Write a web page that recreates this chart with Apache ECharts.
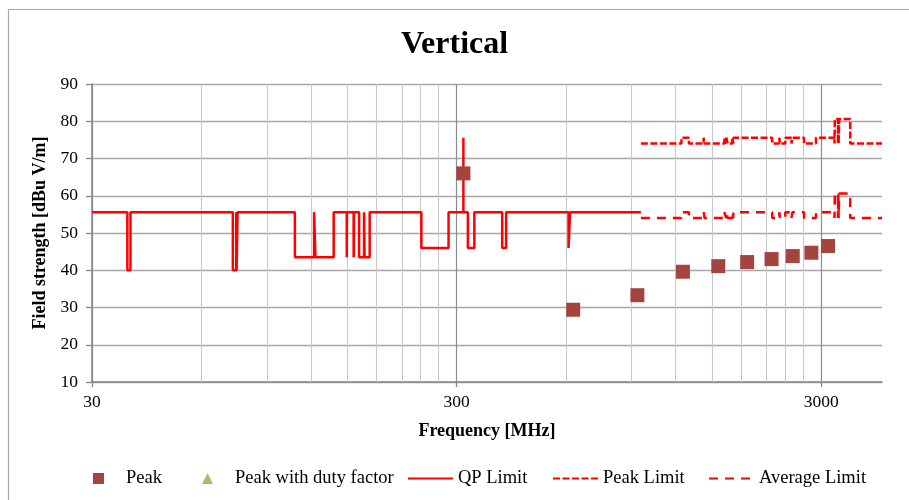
<!DOCTYPE html>
<html><head><meta charset="utf-8">
<script src="https://cdn.jsdelivr.net/npm/echarts@6/dist/echarts.min.js"></script>
<style>html,body{margin:0;padding:0;background:#fff}#c{width:909px;height:500px}</style>
</head><body><div id="c"></div>
<script>
// ---- data (frequency in MHz, level in dBuV/m) ----
const xMin = 30, xMax = 4400;
const yMin = 10, yMax = 90;
const xTickLabels = [30, 300, 3000];
const minorGrid = [60, 90, 120, 150, 180, 210, 240, 270, 600, 900, 1200, 1500, 1800, 2100, 2400, 2700];

const peakFreq  = [313, 626, 939, 1252, 1565, 1878, 2191, 2504, 2817, 3130];
const peakLevel = [66.0, 29.4, 33.3, 39.6, 41.1, 42.2, 43.0, 43.8, 44.7, 46.5];

const dutyFreq = [];
const dutyLevel = [];

const qpFreq  = [30, 37.5, 38.25, 73, 74.6, 74.8, 75.2, 108, 121.94, 123,
                 138, 149.9, 150.05, 156.52475, 156.52525, 156.7, 156.9, 162.0125, 167.17, 167.72,
                 173.2, 240, 285, 313, 313, 322, 335.4, 399.9, 410, 608,
                 614, 960];
const qpLevel = [55.6, 40, 55.6, 40, 55.6, 40, 55.6, 43.5, 55.6, 43.5,
                 55.6, 43.5, 55.6, 43.5, 55.6, 43.5, 55.6, 43.5, 55.6, 43.5,
                 55.6, 46, 55.6, 75.6, 55.6, 46, 55.6, 46, 55.6, 46,
                 55.6, 55.6];

const limFreq = [960, 1240, 1300, 1427, 1435, 1626.5, 1645.5, 1646.5, 1660, 1710,
                 1718.8, 1722.2, 2200, 2300, 2310, 2390, 2483.5, 2500, 2690, 2900,
                 3260, 3267, 3332, 3339, 3345.8, 3358, 3600, 4400];
const avgLevel = [54, 55.6, 54, 55.6, 54, 55.6, 54, 55.6, 54, 55.6,
                  54, 55.6, 54, 55.6, 54, 55.6, 54, 55.6, 54, 55.6,
                  54, 60.6, 54, 60.6, 54, 60.6, 54, 54];
const pkLimLevel = [74, 75.6, 74, 75.6, 74, 75.6, 74, 75.6, 74, 75.6,
                    74, 75.6, 74, 75.6, 74, 75.6, 74, 75.6, 74, 75.6,
                    74, 80.6, 74, 80.6, 74, 80.6, 74, 74];

const legendNames = ['Peak', 'Peak with duty factor', 'QP Limit', 'Peak Limit', 'Average Limit'];

// ---- helpers ----
const toX = f => Math.log10(f / xMin);               // log-frequency axis coordinate
const pairs = (fs, ls) => fs.map((f, i) => [toX(f), ls[i]]);
const FONT = 'Liberation Serif';
const RED = '#FF0000';
const majorVals = xTickLabels.map(toX);

const legendLeft = [93, 202, 407, 552, 708];
const legendItem = (name, i) => {
  let d;
  if (i === 0) d = {name, icon: 'path://M0,0L10,0L10,10L0,10Z'};
  else if (i === 1) d = {name, icon: 'path://M5,0L10,10L0,10Z'};
  else d = {name, itemStyle: {opacity: 0}};
  return {
    left: legendLeft[i], top: 469, padding: 0, itemWidth: 45, itemHeight: 11,
    selectedMode: false,
    textStyle: {fontFamily: FONT, fontSize: 18.5, color: '#000'},
    data: [d]
  };
};

const chart = echarts.init(document.getElementById('c'), null, {renderer: 'canvas'});
chart.setOption({
  animation: false,
  backgroundColor: '#fff',
  graphic: [{
    type: 'rect', silent: true, z: -10,
    shape: {x: 8.5, y: 9.5, width: 1000, height: 1000},
    style: {fill: 'none', stroke: '#A6A6A6', lineWidth: 1.2}
  }],
  title: {
    text: 'Vertical', left: 'center', top: 29, padding: 0,
    textStyle: {fontFamily: FONT, fontWeight: 'bold', fontSize: 32, color: '#000'}
  },
  grid: {left: 92, right: 27, top: 84, bottom: 118, containLabel: false},
  legend: legendNames.map(legendItem),
  xAxis: {
    type: 'value', min: 0, max: toX(xMax), interval: 1,
    axisLine: {show: true, onZero: false, lineStyle: {color: '#868686', width: 1.5}},
    axisTick: {show: true, length: 5, customValues: majorVals, lineStyle: {color: '#868686', width: 1.3}},
    axisLabel: {
      margin: 11, fontFamily: FONT, fontSize: 17.5, color: '#000', customValues: majorVals,
      formatter: v => Math.abs(v - Math.round(v)) < 1e-6 ? String(Math.round(xMin * Math.pow(10, v))) : ''
    },
    splitLine: {show: true, lineStyle: {color: ['#8C8C8C', '#8C8C8C', '#8C8C8C', '#C9C9C9'], width: 1.2}},
    name: 'Frequency [MHz]', nameLocation: 'middle', nameGap: 40,
    nameTextStyle: {fontFamily: FONT, fontWeight: 'bold', fontSize: 18, color: '#000'}
  },
  yAxis: {
    type: 'value', min: yMin, max: yMax, interval: 10,
    axisLine: {show: true, lineStyle: {color: '#868686', width: 1.5}},
    axisTick: {show: true, length: 6, lineStyle: {color: '#868686', width: 1.3}},
    axisLabel: {margin: 14, fontFamily: FONT, fontSize: 17.5, color: '#000'},
    splitLine: {show: true, lineStyle: {color: '#A6A6A6', width: 1.3}},
    name: 'Field strength [dBu V/m]', nameLocation: 'middle', nameGap: 34, nameRotate: 90,
    nameTextStyle: {fontFamily: FONT, fontWeight: 'bold', fontSize: 18, color: '#000'}
  },
  series: [
    {
      name: '_grid', type: 'line', data: [], z: 1, silent: true,
      markLine: {
        z: 1, silent: true, symbol: ['none', 'none'], label: {show: false}, animation: false,
        lineStyle: {color: '#C9C9C9', width: 1.1, type: 'solid'},
        emphasis: {disabled: true},
        data: minorGrid.map(f => ({xAxis: toX(f)}))
      }
    },
    {
      name: 'Peak', type: 'scatter', symbol: 'rect', symbolSize: 14, z: 5,
      itemStyle: {color: '#A5443F', opacity: 1},
      data: pairs(peakFreq, peakLevel)
    },
    {
      name: 'Peak with duty factor', type: 'scatter', symbol: 'triangle', symbolSize: 12, z: 5,
      itemStyle: {color: '#8CB04E'},
      data: pairs(dutyFreq, dutyLevel)
    },
    {
      name: 'QP Limit', type: 'line', step: 'end', symbol: 'none', z: 3,
      itemStyle: {color: RED}, lineStyle: {color: RED, width: 2.5, type: 'solid'},
      data: pairs(qpFreq, qpLevel)
    },
    {
      name: 'Peak Limit', type: 'line', step: 'end', symbol: 'none', z: 3,
      itemStyle: {color: RED}, lineStyle: {color: RED, width: 2.5, type: [7, 2.5]},
      data: pairs(limFreq, pkLimLevel)
    },
    {
      name: 'Average Limit', type: 'line', step: 'end', symbol: 'none', z: 3,
      itemStyle: {color: RED}, lineStyle: {color: RED, width: 2.5, type: [9, 7]},
      data: pairs(limFreq, avgLevel)
    }
  ]
});
</script>
</body></html>
